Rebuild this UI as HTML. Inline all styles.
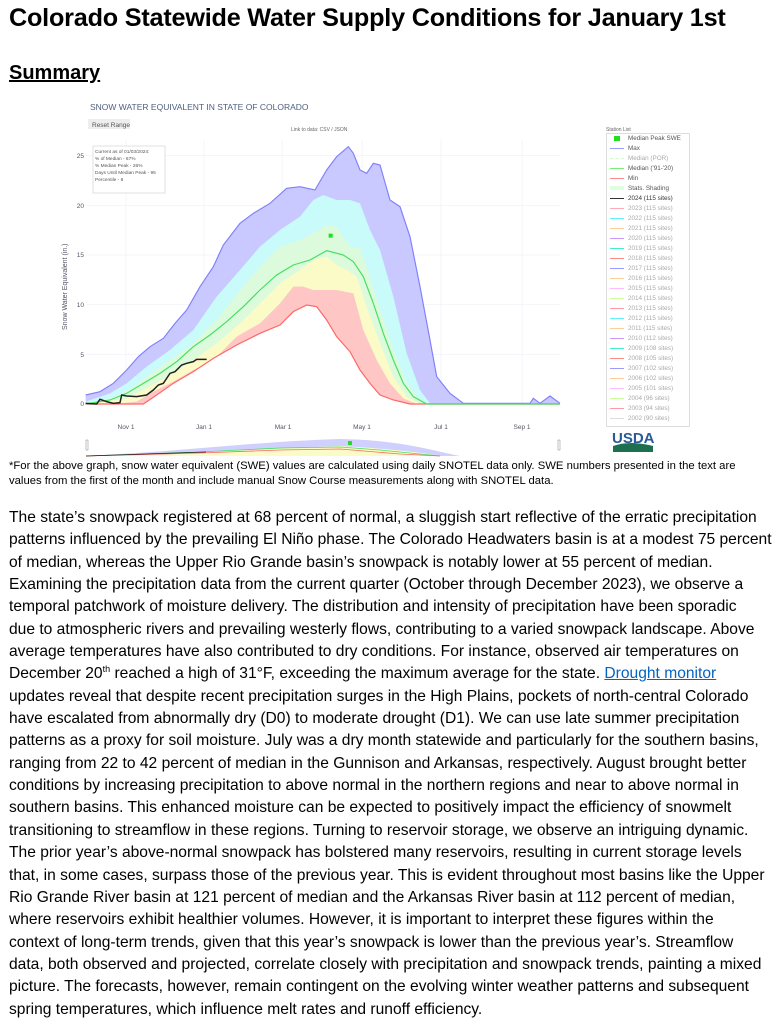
<!DOCTYPE html>
<html><head><meta charset="utf-8"><style>
body{margin:0;width:784px;height:1024px;background:#fff;font-family:"Liberation Sans",sans-serif;color:#000;overflow:hidden;position:relative}
.t{position:absolute;left:9px;top:4px;font-weight:bold;font-size:25.2px;white-space:nowrap;letter-spacing:-0.2px}
.s{position:absolute;left:9px;top:62px;font-weight:bold;font-size:20px;text-decoration:underline}
.fn{position:absolute;left:9px;top:459px;font-size:11.3px;line-height:15px;white-space:nowrap}
.b{position:absolute;left:9px;top:507px;font-size:15.6px;line-height:22.35px;white-space:nowrap}
.b sup{font-size:9px;line-height:0}
.b a{color:#0563c1;text-decoration:underline}
.lg{position:absolute;left:606px;top:133px;width:82px;height:292px;border:1px solid #ddd;overflow:hidden;font-size:6.3px;color:#aaa}
.lg div{height:10px;line-height:10px;white-space:nowrap}
.lg i{display:inline-block;width:14px;height:0;border-top:1.5px solid;vertical-align:middle;margin:0 4px 0 3px}
</style></head><body>
<div class="t">Colorado Statewide Water Supply Conditions for January 1st</div>
<div class="s">Summary</div>
<svg style="position:absolute;left:0;top:0" width="784" height="460">
<g font-family="Liberation Sans, sans-serif">
<text x="90" y="110" font-size="8.5" fill="#506080">SNOW WATER EQUIVALENT IN STATE OF COLORADO</text>
<rect x="88" y="119" width="42" height="10" fill="#eee"/>
<text x="92" y="127" font-size="6.5" fill="#555">Reset Range</text>
<text x="291" y="131" font-size="5" fill="#666">Link to data: CSV / JSON</text>
<text x="606" y="131" font-size="5" fill="#666">Station List</text>
<g stroke="#eef0f6" stroke-width="0.7">
<line x1="86" x2="560" y1="155.7" y2="155.7"/><line x1="86" x2="560" y1="205.3" y2="205.3"/><line x1="86" x2="560" y1="255" y2="255"/><line x1="86" x2="560" y1="304.7" y2="304.7"/><line x1="86" x2="560" y1="354.3" y2="354.3"/>
<line x1="126" x2="126" y1="140" y2="404"/><line x1="204" x2="204" y1="140" y2="404"/><line x1="282" x2="282" y1="140" y2="404"/><line x1="362" x2="362" y1="140" y2="404"/><line x1="441" x2="441" y1="140" y2="404"/><line x1="522" x2="522" y1="140" y2="404"/>
</g>
<g font-size="6.5" fill="#556" text-anchor="end">
<text x="84" y="158">25</text><text x="84" y="208">20</text><text x="84" y="257">15</text><text x="84" y="307">10</text><text x="84" y="357">5</text><text x="84" y="406">0</text></g>
<g font-size="6.5" fill="#556" text-anchor="middle">
<text x="126" y="429">Nov 1</text><text x="204" y="429">Jan 1</text><text x="283" y="429">Mar 1</text><text x="362" y="429">May 1</text><text x="441" y="429">Jul 1</text><text x="522" y="429">Sep 1</text></g>
<text transform="translate(67,330) rotate(-90)" font-size="7" fill="#556">Snow Water Equivalent (in.)</text>
<g transform="translate(60,90) scale(0.33333)">
<polygon fill="#c9c9ff" points="77,942 77,915 120,905 160,880 200,840 235,800 270,770 310,745 345,700 380,660 420,590 460,530 490,465 540,400 580,370 630,340 680,295 720,290 765,300 800,240 830,200 865,170 880,190 900,240 920,250 940,220 960,225 990,330 1020,350 1050,440 1080,590 1110,750 1130,860 1170,910 1210,940 1410,940 1420,925 1440,940 1470,918 1500,940 1500,942"/>
<polygon fill="#c9fbfb" points="77,942 77,935 150,910 200,880 260,830 330,780 400,720 470,620 540,540 600,470 660,420 720,380 760,330 790,315 830,330 870,330 900,340 930,420 960,480 1000,620 1040,790 1080,900 1110,940 1110,942"/>
<polygon fill="#dcfadc" points="77,942 77,940 150,925 200,905 260,860 330,810 400,760 470,690 540,600 600,530 660,470 720,450 760,430 800,405 830,410 850,440 870,470 900,475 930,560 960,660 1000,780 1040,880 1080,930 1110,942"/>
<polygon fill="#fbfbc8" points="77,942 200,925 260,895 330,855 400,810 470,760 540,700 600,640 660,580 720,540 760,510 800,500 830,525 860,540 890,560 920,650 960,760 1000,860 1040,920 1080,942"/>
<polygon fill="#ffc6c6" points="77,942 180,940 230,935 280,905 340,875 400,840 460,810 530,740 600,700 660,640 700,590 730,590 760,600 800,600 830,600 880,610 910,720 950,810 990,880 1030,925 1070,942"/>
<polygon fill="#fff" points="77,943 250,942 290,915 340,880 400,845 460,805 530,765 600,730 660,705 700,665 740,645 770,650 800,690 830,740 870,785 900,840 930,880 960,915 1000,930 1050,942 1500,943"/>
<g fill="none">
<polyline stroke="#8080ff" stroke-width="3.5" points="77,915 120,905 160,880 200,840 235,800 270,770 310,745 345,700 380,660 420,590 460,530 490,465 540,400 580,370 630,340 680,295 720,290 765,300 800,240 830,200 865,170 880,190 900,240 920,250 940,220 960,225 990,330 1020,350 1050,440 1080,590 1110,750 1130,860 1170,910 1210,940 1410,940 1420,925 1440,940 1470,918 1500,940"/>
<polyline stroke="#ff6666" stroke-width="3.5" points="77,942 250,942 290,915 340,880 400,845 460,805 530,765 600,730 660,705 700,665 740,645 770,650 800,690 830,740 870,785 900,840 930,880 960,915 1000,930 1050,942 1500,942"/>
<polyline stroke="#44e060" stroke-width="3.5" points="77,942 150,930 200,910 250,880 300,850 350,815 400,770 450,735 500,695 550,650 600,600 650,555 700,525 750,510 800,482 850,495 880,515 910,560 940,640 970,730 1000,810 1030,880 1060,920 1100,942 1500,942"/>
<polyline stroke="#222" stroke-width="4.5" points="77,940 110,942 120,928 140,935 160,940 180,938 185,915 200,918 230,920 260,915 280,900 295,885 310,880 330,850 345,845 365,825 380,820 400,815 410,808 440,808"/>
</g>
<rect x="806" y="431" width="12" height="12" fill="#22dd22"/>
</g>
<rect x="93" y="146" width="72" height="47" fill="#fff" stroke="#ccc" stroke-width="0.6"/>
<g font-size="4.8" fill="#555"><text x="95" y="153">Current as of 01/03/2024:</text><text x="95" y="160">% of Median - 67%</text><text x="95" y="167">% Median Peak - 26%</text><text x="95" y="174">Days Until Median Peak - 95</text><text x="95" y="181">Percentile - 8</text></g>
<path d="M86,456 C200,450 250,442 340,439 C400,440 430,450 460,456 Z" fill="#d0d0ff"/>
<path d="M86,456 C200,453 280,448 340,446 C380,448 420,452 440,456 Z" fill="#fbfbc8"/>
<polyline points="86,456 200,452 280,448 340,447 380,450 440,456" fill="none" stroke="#44e060" stroke-width="0.8"/>
<polyline points="86,456 200,453 280,450 340,449 400,454 440,456" fill="none" stroke="#ff6666" stroke-width="0.8"/>
<polyline points="86,456 206,452" fill="none" stroke="#222" stroke-width="0.8"/>
<rect x="86" y="440" width="2" height="10" fill="#fff" stroke="#888" stroke-width="0.5"/>
<rect x="558" y="440" width="2" height="10" fill="#fff" stroke="#888" stroke-width="0.5"/>
<rect x="348" y="441" width="4" height="4" fill="#22dd22"/>
<text x="612" y="443" font-size="15" font-weight="bold" fill="#2a5a9a">USDA</text>
<path d="M613,446 Q630,440 653,446 L653,452 L613,452 Z" fill="#1e6e50"/>
</g></svg>
<div class="lg">
<div style="color:#555"><i style="border:0;width:6px;height:5px;background:#2d2;margin-left:7px;margin-right:8px"></i>Median Peak SWE</div>
<div style="color:#555"><i style="border-color:#99f"></i>Max</div>
<div><i style="border-color:#cfc;border-top-style:dashed"></i>Median (POR)</div>
<div style="color:#555"><i style="border-color:#7e7"></i>Median ('91-'20)</div>
<div style="color:#555"><i style="border-color:#f88"></i>Min</div>
<div style="color:#555"><i style="border-color:#dfd;border-top-width:4px"></i>Stats. Shading</div>
<div style="color:#333"><i style="border-color:#333"></i>2024 (115 sites)</div>
<div><i style="border-color:#fab"></i>2023 (115 sites)</div>
<div><i style="border-color:#6ef"></i>2022 (115 sites)</div>
<div><i style="border-color:#fc9"></i>2021 (115 sites)</div>
<div><i style="border-color:#c9f"></i>2020 (115 sites)</div>
<div><i style="border-color:#4ec"></i>2019 (115 sites)</div>
<div><i style="border-color:#f88"></i>2018 (115 sites)</div>
<div><i style="border-color:#99f"></i>2017 (115 sites)</div>
<div><i style="border-color:#fc9"></i>2016 (115 sites)</div>
<div><i style="border-color:#fbf"></i>2015 (115 sites)</div>
<div><i style="border-color:#cf9"></i>2014 (115 sites)</div>
<div><i style="border-color:#f9a"></i>2013 (115 sites)</div>
<div><i style="border-color:#6ef"></i>2012 (115 sites)</div>
<div><i style="border-color:#fc9"></i>2011 (115 sites)</div>
<div><i style="border-color:#c9f"></i>2010 (112 sites)</div>
<div><i style="border-color:#4ec"></i>2009 (108 sites)</div>
<div><i style="border-color:#f88"></i>2008 (105 sites)</div>
<div><i style="border-color:#99f"></i>2007 (102 sites)</div>
<div><i style="border-color:#fc9"></i>2006 (102 sites)</div>
<div><i style="border-color:#fbf"></i>2005 (101 sites)</div>
<div><i style="border-color:#cf9"></i>2004 (96 sites)</div>
<div><i style="border-color:#f9a"></i>2003 (94 sites)</div>
<div><i style="border-color:#ddd"></i>2002 (90 sites)</div>
</div>
<div class="fn">*For the above graph, snow water equivalent (SWE) values are calculated using daily SNOTEL data only. SWE numbers presented in the text are<br>values from the first of the month and include manual Snow Course measurements along with SNOTEL data.</div>
<div class="b">The state’s snowpack registered at 68 percent of normal, a sluggish start reflective of the erratic precipitation<br>patterns influenced by the prevailing El Niño phase. The Colorado Headwaters basin is at a modest 75 percent<br>of median, whereas the Upper Rio Grande basin’s snowpack is notably lower at 55 percent of median.<br>Examining the precipitation data from the current quarter (October through December 2023), we observe a<br>temporal patchwork of moisture delivery. The distribution and intensity of precipitation have been sporadic<br>due to atmospheric rivers and prevailing westerly flows, contributing to a varied snowpack landscape. Above<br>average temperatures have also contributed to dry conditions. For instance, observed air temperatures on<br>December 20<sup>th</sup> reached a high of 31°F, exceeding the maximum average for the state. <a>Drought monitor</a><br>updates reveal that despite recent precipitation surges in the High Plains, pockets of north-central Colorado<br>have escalated from abnormally dry (D0) to moderate drought (D1). We can use late summer precipitation<br>patterns as a proxy for soil moisture. July was a dry month statewide and particularly for the southern basins,<br>ranging from 22 to 42 percent of median in the Gunnison and Arkansas, respectively. August brought better<br>conditions by increasing precipitation to above normal in the northern regions and near to above normal in<br>southern basins. This enhanced moisture can be expected to positively impact the efficiency of snowmelt<br>transitioning to streamflow in these regions. Turning to reservoir storage, we observe an intriguing dynamic.<br>The prior year’s above-normal snowpack has bolstered many reservoirs, resulting in current storage levels<br>that, in some cases, surpass those of the previous year. This is evident throughout most basins like the Upper<br>Rio Grande River basin at 121 percent of median and the Arkansas River basin at 112 percent of median,<br>where reservoirs exhibit healthier volumes. However, it is important to interpret these figures within the<br>context of long-term trends, given that this year’s snowpack is lower than the previous year’s. Streamflow<br>data, both observed and projected, correlate closely with precipitation and snowpack trends, painting a mixed<br>picture. The forecasts, however, remain contingent on the evolving winter weather patterns and subsequent<br>spring temperatures, which influence melt rates and runoff efficiency.</div>
</body></html>
